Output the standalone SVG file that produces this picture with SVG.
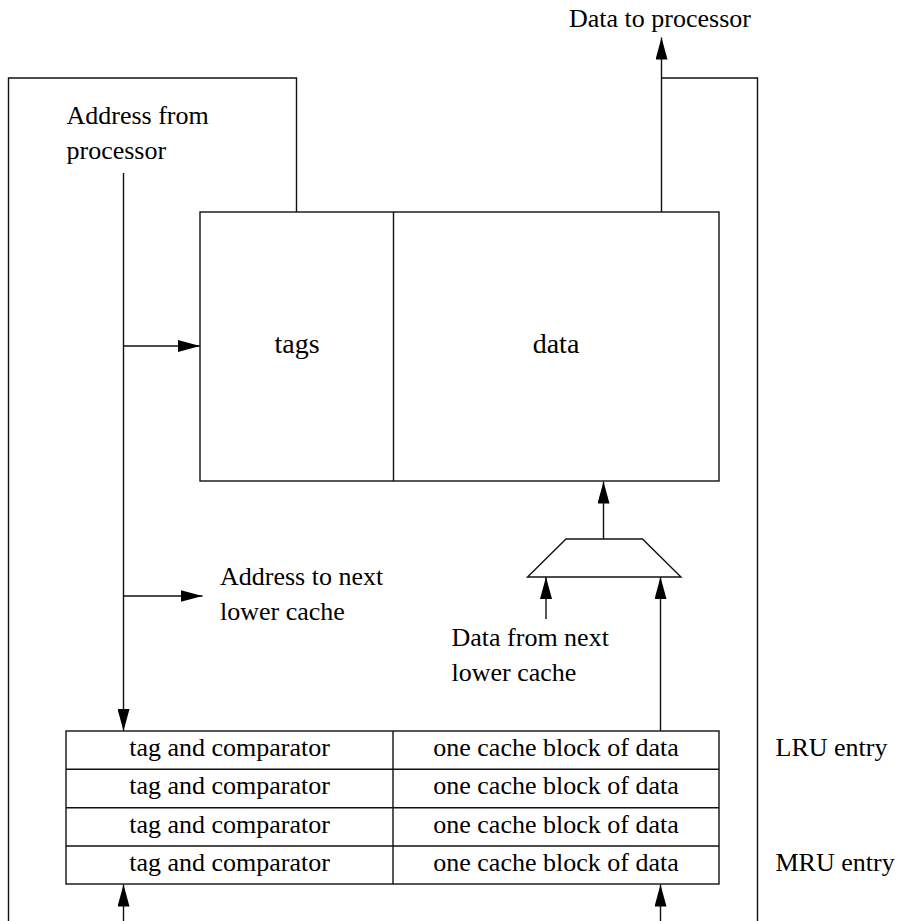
<svg xmlns="http://www.w3.org/2000/svg" width="907" height="921" viewBox="0 0 907 921">
<style>
.ln{fill:none;stroke:#111;stroke-width:1.4}
.bx{fill:#fff;stroke:#111;stroke-width:1.4}
text{font-family:'Liberation Serif',Tinos,'Times New Roman',Times,'DejaVu Serif',serif;fill:#000}
.t{font-size:26px}
.big{font-size:28px}
.c{text-anchor:middle}
</style>
<defs>
<marker id="ah" viewBox="0 0 22 12" refX="22" refY="6" markerWidth="22" markerHeight="12" markerUnits="userSpaceOnUse" orient="auto">
<path d="M0,0 L22,6 L0,12 z" fill="#000"/>
</marker>
</defs>
<g id="connectors">
<path class="ln" d="M296.5,212 V78 H8.5 V921"/>
<path class="ln" d="M661.5,212 V37.5" marker-end="url(#ah)"/>
<path class="ln" d="M661.5,78 H757.5 V921"/>
<path class="ln" d="M123.5,173 V731" marker-end="url(#ah)"/>
<path class="ln" d="M123.5,346 H200" marker-end="url(#ah)"/>
<path class="ln" d="M123.5,596 H202.5" marker-end="url(#ah)"/>
<path class="ln" d="M603.5,539 V481.5" marker-end="url(#ah)"/>
<path class="ln" d="M546,619 V577" marker-end="url(#ah)"/>
<path class="ln" d="M660.5,731 V577" marker-end="url(#ah)"/>
<path class="ln" d="M123.5,921 V884.5" marker-end="url(#ah)"/>
<path class="ln" d="M660.5,921 V884.5" marker-end="url(#ah)"/>
</g>
<g id="cache">
<rect class="bx" x="200" y="212" width="519" height="269"/>
<line class="ln" x1="393.5" y1="212" x2="393.5" y2="481"/>
<text class="big c" x="297" y="353">tags</text>
<text class="big c" x="556" y="353">data</text>
</g>
<g id="mux">
<path class="bx" d="M566,539 H642.5 L681,577 H527.5 Z"/>
</g>
<g id="table">
<rect class="bx" x="66" y="731" width="653" height="153"/>
<line class="ln" x1="66" y1="769.3" x2="719" y2="769.3"/>
<line class="ln" x1="66" y1="807.7" x2="719" y2="807.7"/>
<line class="ln" x1="66" y1="846" x2="719" y2="846"/>
<line class="ln" x1="393" y1="731" x2="393" y2="884"/>
<text class="t c" x="229.5" y="756">tag and comparator</text>
<text class="t c" x="229.5" y="794.3">tag and comparator</text>
<text class="t c" x="229.5" y="832.7">tag and comparator</text>
<text class="t c" x="229.5" y="871">tag and comparator</text>
<text class="t c" x="556" y="756">one cache block of data</text>
<text class="t c" x="556" y="794.3">one cache block of data</text>
<text class="t c" x="556" y="832.7">one cache block of data</text>
<text class="t c" x="556" y="871">one cache block of data</text>
</g>
<g id="labels">
<text class="t" x="569" y="27">Data to processor</text>
<text class="t" x="66.5" y="124">Address from</text>
<text class="t" x="66.5" y="159">processor</text>
<text class="t" x="220" y="585">Address to next</text>
<text class="t" x="220" y="620">lower cache</text>
<text class="t" x="451.5" y="646">Data from next</text>
<text class="t" x="451.5" y="681">lower cache</text>
<text class="t" x="775.5" y="756">LRU entry</text>
<text class="t" x="775.5" y="871">MRU entry</text>
</g>
</svg>
